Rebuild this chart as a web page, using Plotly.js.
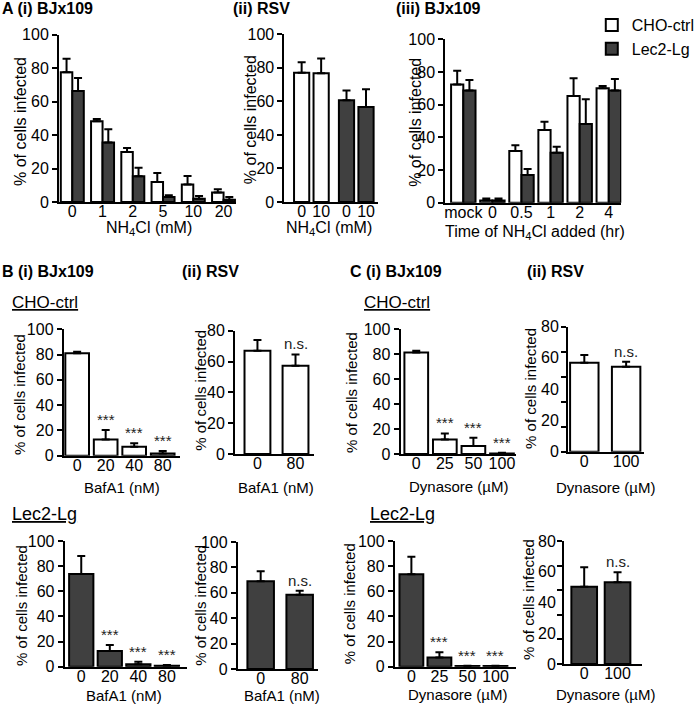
<!DOCTYPE html>
<html lang="en">
<head>
<meta charset="UTF-8">
<title>Infection assays</title>
<script src="https://cdn.plot.ly/plotly-3.0.1.min.js"></script>
<style>
  body { margin: 0; background: #fff; }
  #chart { width: 700px; height: 711px; }
</style>
</head>
<body>
<div id="chart"></div>
<script>
// ---- data ----
// A (i) BJx109, NH4Cl dose
const a1Doses = ['0', '1', '2', '5', '10', '20'];
const a1Ctrl = [77.5, 48.2, 29.9, 12.0, 10.4, 5.6];
const a1CtrlErr = [8.0, 1.4, 2.4, 5.3, 5.1, 2.0];
const a1Lec = [66.3, 35.5, 15.3, 3.0, 2.0, 1.4];
const a1LecErr = [7.8, 7.9, 5.2, 1.0, 1.6, 1.6];

// A (ii) RSV, NH4Cl
const a2Doses = ['0', '10'];
const a2Ctrl = [77.1, 76.7];
const a2CtrlErr = [6.2, 8.8];
const a2Lec = [60.6, 56.6];
const a2LecErr = [5.9, 10.7];

// A (iii) BJx109, time of NH4Cl addition
const a3Times = ['mock', '0', '0.5', '1', '2', '4'];
const a3Ctrl = [72.4, 1.4, 31.6, 44.5, 65.3, 70.0];
const a3CtrlErr = [8.4, 1.2, 3.5, 5.1, 10.8, 1.4];
const a3Lec = [68.6, 1.4, 16.9, 30.6, 48.2, 68.6];
const a3LecErr = [6.5, 1.2, 3.7, 3.7, 15.1, 7.1];

// B BafA1
const bafDoses = ['0', '20', '40', '80'];
const bCtrl = [81.0, 12.9, 7.1, 1.8];
const bCtrlErr = [1.3, 7.4, 2.7, 1.9];
const bLec = [73.7, 12.5, 1.9, 0.8];
const bLecErr = [14.3, 4.7, 2.1, 0.5];
const bSig = ['', '***', '***', '***'];
const bafRsvDoses = ['0', '80'];
const bRsvCtrl = [67.0, 57.3];
const bRsvCtrlErr = [7.0, 7.3];
const bRsvLec = [69.0, 58.5];
const bRsvLecErr = [7.9, 3.2];
const rsvSig = ['', 'n.s.'];

// C Dynasore
const dynDoses = ['0', '25', '50', '100'];
const cCtrl = [81.3, 11.7, 6.4, 0.5];
const cCtrlErr = [1.4, 4.8, 6.6, 0.5];
const cLec = [73.5, 7.4, 0.5, 0.5];
const cLecErr = [14.0, 4.0, 0.3, 0.3];
const cSig = ['', '***', '***', '***'];
const dynRsvDoses = ['0', '100'];
const cRsvCtrl = [57.0, 54.4];
const cRsvCtrlErr = [4.9, 3.2];
const cRsvLec = [50.3, 53.1];
const cRsvLecErr = [12.6, 6.5];
const cRsvTicks = [0, 20, 40, 60, 80];
const cRsvTickMarks = [0, 16, 32, 48, 64, 80];

// ---- layout helpers ----
const W = 700, H = 711;
const DARK = '#404040';
const FONT = 'Liberation Sans, Arial, sans-serif';
const traces = [];
const ann = [];
const layout = {
  width: W, height: H,
  margin: {l: 0, r: 0, t: 0, b: 0},
  paper_bgcolor: '#fff', plot_bgcolor: 'rgba(0,0,0,0)',
  barmode: 'overlay',
  font: {family: FONT, size: 16, color: '#000'},
  showlegend: true,
  legend: {x: 622 / W, y: 1 - 8 / H, xanchor: 'left', yanchor: 'top',
           font: {size: 16}, bgcolor: 'rgba(0,0,0,0)', itemwidth: 30,
           tracegroupgap: 0, traceorder: 'normal'},
  annotations: ann
};

const suf = (n) => (n === 1 ? '' : String(n));

// box = [left, right, top, bottom] in pixels
function addAxes(n, box, xRange, yMax, xOpts, yOpts) {
  layout['xaxis' + suf(n)] = Object.assign({
    domain: [box[0] / W, box[1] / W], range: xRange, anchor: 'y' + suf(n),
    type: 'category', showline: true, linewidth: 2, linecolor: '#000',
    ticks: '', ticklabelstandoff: -6, showgrid: false, zeroline: false,
    fixedrange: true, tickfont: {size: 16}
  }, xOpts || {});
  layout['yaxis' + suf(n)] = Object.assign({
    domain: [1 - box[3] / H, 1 - box[2] / H], range: [0, yMax], anchor: 'x' + suf(n),
    showline: true, linewidth: 2, linecolor: '#000', ticks: 'outside',
    ticklen: 5, tickwidth: 2, tickcolor: '#000', dtick: 20, tick0: 0,
    showgrid: false, zeroline: false, fixedrange: true, tickfont: {size: 16}
  }, yOpts || {});
}

function bars(n, x, y, err, dark, extra) {
  traces.push(Object.assign({
    type: 'bar', x: x, y: y, xaxis: 'x' + suf(n), yaxis: 'y' + suf(n),
    marker: {color: dark ? DARK : '#fff', line: {color: '#000', width: 2}},
    error_y: {type: 'data', symmetric: false, array: err,
              arrayminus: err.map(() => 0), color: '#000', thickness: 2, width: 4},
    showlegend: false, hoverinfo: 'skip'
  }, extra || {}));
}

function label(x, y, t, o) {
  ann.push(Object.assign({xref: 'paper', yref: 'paper', x: x / W, y: 1 - y / H,
    text: t, showarrow: false, xanchor: 'center', yanchor: 'middle',
    font: {size: 16}}, o || {}));
}

// significance marks sit on the error bar tops; x is the category index
function sig(n, vals, errs, marks, size) {
  marks.forEach((m, i) => {
    if (!m) return;
    ann.push({xref: 'x' + suf(n), yref: 'y' + suf(n), x: i, y: vals[i] + errs[i],
      text: m, showarrow: false, yanchor: 'bottom',
      font: {size: size, color: '#222'}});
  });
}

const yTitle = (x, y, size) => label(x, y, '% of cells infected', {textangle: -90, font: {size: size}});

// ---- row A ----
addAxes(1, [62, 248, 34.5, 202], [-0.44, 5.41], 100);
bars(1, a1Doses, a1Ctrl, a1CtrlErr, false, {width: 0.38, offset: -0.38});
bars(1, a1Doses, a1Lec, a1LecErr, true, {width: 0.38, offset: 0});

const a2Pos = a2Doses.map((d, i) => i);
const a2PosLec = a2Doses.map((d, i) => i + 2.3);
addAxes(2, [299, 397, 34.3, 202], [-0.88, 3.9], 100,
  {type: 'linear', tickvals: a2Pos.concat(a2PosLec), ticktext: a2Doses.concat(a2Doses)});
bars(2, a2Pos, a2Ctrl, a2CtrlErr, false, {width: 0.78});
bars(2, a2PosLec, a2Lec, a2LecErr, true, {width: 0.78});

addAxes(3, [468, 653, 39.3, 202.7], [-0.62, 5.43], 100);
bars(3, a3Times, a3Ctrl, a3CtrlErr, false, {width: 0.42, offset: -0.42, name: 'CHO-ctrl', showlegend: true});
bars(3, a3Times, a3Lec, a3LecErr, true, {width: 0.42, offset: 0, name: 'Lec2-Lg', showlegend: true});

// ---- row B / C, CHO-ctrl ----
addAxes(4, [67, 189, 329.3, 455.7], [-0.47, 3.6], 100);
bars(4, bafDoses, bCtrl, bCtrlErr, false, {width: 0.83});
sig(4, bCtrl, bCtrlErr, bSig, 15);

addAxes(5, [247, 330, 330.7, 454], [-0.59, 1.485], 80);
bars(5, bafRsvDoses, bRsvCtrl, bRsvCtrlErr, false, {width: 0.68});
sig(5, bRsvCtrl, bRsvCtrlErr, rsvSig, 15);

addAxes(6, [421, 542, 329, 454], [-0.55, 3.48], 100);
bars(6, dynDoses, cCtrl, cCtrlErr, false, {width: 0.83});
sig(6, cCtrl, cCtrlErr, cSig, 15);

addAxes(7, [597, 677, 326.7, 451.7], [-0.39, 1.43], 80, null,
  {tickmode: 'array', tickvals: cRsvTickMarks, showticklabels: false});
bars(7, dynRsvDoses, cRsvCtrl, cRsvCtrlErr, false, {width: 0.68});
sig(7, cRsvCtrl, cRsvCtrlErr, rsvSig, 15);

// ---- row B / C, Lec2-Lg ----
addAxes(8, [68, 197, 541, 666.7], [-0.58, 3.72], 100);
bars(8, bafDoses, bLec, bLecErr, true, {width: 0.85});
sig(8, bLec, bLecErr, bSig, 15);

addAxes(9, [250, 334, 542, 669], [-0.585, 1.464], 100);
bars(9, bafRsvDoses, bRsvLec, bRsvLecErr, true, {width: 0.68});
sig(9, bRsvLec, bRsvLecErr, rsvSig, 15);

addAxes(10, [415, 542, 541, 666.7], [-0.59, 3.72], 100);
bars(10, dynDoses, cLec, cLecErr, true, {width: 0.85});
sig(10, cLec, cLecErr, cSig, 15);

addAxes(11, [593, 675, 541, 664], [-0.6, 1.74], 80, null,
  {tickmode: 'array', tickvals: cRsvTickMarks, showticklabels: false});
bars(11, dynRsvDoses, cRsvLec, cRsvLecErr, true, {width: 0.77});
sig(11, cRsvLec, cRsvLecErr, rsvSig, 15);

// tick labels of the two Dynasore RSV panels (label and tick marks differ there)
[[7, 590], [11, 586]].forEach(([n, xr]) => {
  cRsvTicks.forEach((v) => {
    ann.push({xref: 'paper', yref: 'y' + suf(n), x: xr / W, y: v, text: String(v),
      showarrow: false, xanchor: 'right', yanchor: 'middle', font: {size: 16}});
  });
});

// ---- headings ----
const bold = {xanchor: 'left', font: {size: 16}};
label(0, 9, '<b>A (i) BJx109</b>', bold);
label(243, 9, '<b>(ii) RSV</b>', bold);
label(414, 9, '<b>(iii) BJx109</b>', bold);
label(0, 272, '<b>B (i) BJx109</b>', bold);
label(189, 272, '<b>(ii) RSV</b>', bold);
label(366, 272, '<b>C (i) BJx109</b>', bold);
label(552, 272, '<b>(ii) RSV</b>', bold);

label(11, 302, '<u>CHO-ctrl</u>', {xanchor: 'left', font: {size: 17}});
label(11, 514, '<u>Lec2-Lg</u>', {xanchor: 'left', font: {size: 18}});
label(381, 302, '<u>CHO-ctrl</u>', {xanchor: 'left', font: {size: 17}});
label(387, 514, '<u>Lec2-Lg</u>', {xanchor: 'left', font: {size: 18}});

// ---- axis titles ----
yTitle(21, 121, 16);
yTitle(264, 120, 16);
yTitle(436, 122, 16);
yTitle(20, 395, 15);
yTitle(210, 390, 15);
yTitle(369, 393, 15);
yTitle(558, 388, 15);
yTitle(22, 605, 15);
yTitle(210, 605, 15);
yTitle(367, 604, 15);
yTitle(555, 600, 15);

const nh4 = 'NH<sub>4</sub>Cl (mM)';
label(157, 228, nh4);
label(346, 228, nh4);
label(562, 233, 'Time of NH<sub>4</sub>Cl added (hr)');
label(128, 487, 'BafA1 (nM)', {font: {size: 15}});
label(290, 487, 'BafA1 (nM)', {font: {size: 15}});
label(482, 486, 'Dynasore (µM)', {font: {size: 15}});
label(637, 487, 'Dynasore (µM)', {font: {size: 15}});
label(130, 695, 'BafA1 (nM)', {font: {size: 15}});
label(296, 695, 'BafA1 (nM)', {font: {size: 15}});
label(481, 694, 'Dynasore (µM)', {font: {size: 15}});
label(637, 694, 'Dynasore (µM)', {font: {size: 15}});

Plotly.newPlot('chart', traces, layout, {staticPlot: true, displayModeBar: false});
</script>
</body>
</html>
